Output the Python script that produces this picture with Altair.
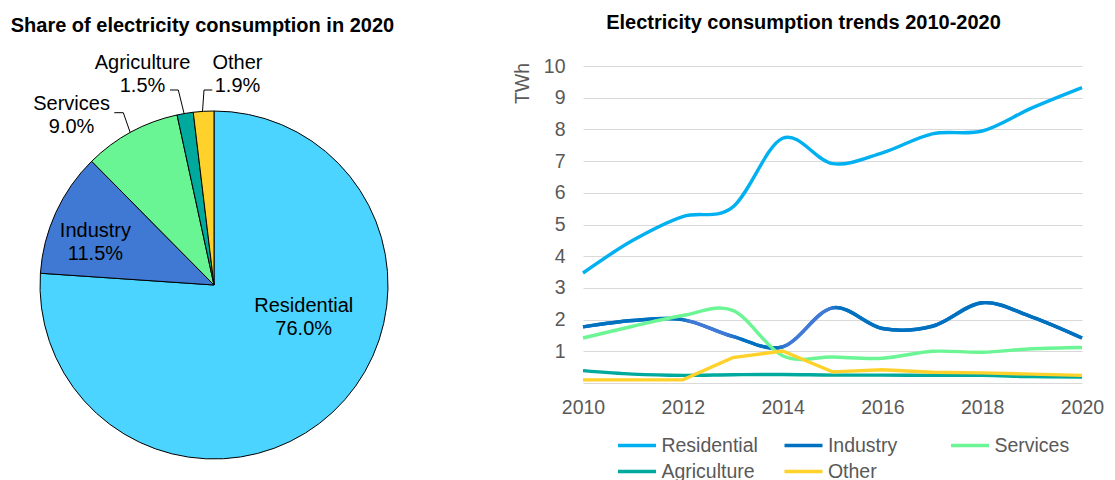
import altair as alt
import pandas as pd

# ---------------- data ----------------
years = list(range(2010, 2021))
residential = [3.47, 4.50, 5.25, 5.55, 7.72, 6.92, 7.26, 7.86, 7.95, 8.68, 9.32]
industry = [1.77, 1.97, 2.00, 1.47, 1.14, 2.37, 1.72, 1.79, 2.53, 2.08, 1.42]
services = [1.42, 1.79, 2.13, 2.29, 0.86, 0.82, 0.78, 1.00, 0.97, 1.08, 1.12]
agriculture = [0.39, 0.28, 0.24, 0.26, 0.27, 0.25, 0.25, 0.24, 0.24, 0.20, 0.19]
other = [0.10, 0.10, 0.10, 0.80, 1.01, 0.35, 0.42, 0.34, 0.32, 0.28, 0.24]

categories = ["Residential", "Industry", "Services", "Agriculture", "Other"]
shares_2020 = [76.0, 11.5, 9.0, 1.5, 1.9]
x_ticks = [2010, 2012, 2014, 2016, 2018, 2020]
y_ticks = [1, 2, 3, 4, 5, 6, 7, 8, 9, 10]

pie_title = "Share of electricity consumption in 2020"
line_title = "Electricity consumption trends 2010-2020"

series_values = [residential, industry, services, agriculture, other]
rows = []
for name, vals in zip(categories, series_values):
    for yr, v in zip(years, vals):
        rows.append({"year": yr, "series": name, "value": v})
df = pd.DataFrame(rows)
pie_df = pd.DataFrame({"category": categories, "share": shares_2020,
                       "idx": list(range(len(categories)))})

# ---------------- styles ----------------
FONT = "Liberation Sans"
GREY = "#595959"
line_range = ["#00B0F0", "#0070C0", "#6CF595", "#00A99D", "#FFD22B"]
pie_range = ["#4AD4FF", "#3F79D4", "#6AF595", "#00A99D", "#FFD22B"]
IND_DARK, IND_LIGHT = "#0070C0", "#4279D6"
SW = 3.4

PL, PT, PW, PH = 583, 66, 499, 317      # plot area in page pixels
CX, CY, R = 214 - PL, 285 - PT, 174       # pie centre (plot coords) and radius

# ---------------- line chart ----------------
x_enc = alt.X("year:Q", scale=alt.Scale(domain=[2010, 2020], nice=False, zero=False),
              axis=alt.Axis(values=x_ticks, format="d", grid=False, ticks=False,
                            domain=True, domainColor="#D9D9D9", domainWidth=1,
                            labelFontSize=19.5, labelColor=GREY, labelFont=FONT,
                            labelPadding=15, labelFlush=False, labelOverlap=False,
                            title=None))
y_enc = alt.Y("value:Q", scale=alt.Scale(domain=[0, 10], nice=False),
              axis=alt.Axis(values=y_ticks, grid=True, gridColor="#D9D9D9", gridWidth=1,
                            domain=False, ticks=False, labelFontSize=19.5,
                            labelColor=GREY, labelFont=FONT, labelPadding=18,
                            labelOverlap=False, labelFlush=False,
                            title="TWh", titleFont=FONT, titleFontSize=19.5,
                            titleFontWeight="normal", titleColor=GREY,
                            titleAngle=270, titleX=-61, titleY=17,
                            titleAlign="center", titleBaseline="middle"))
color_enc = alt.Color("series:N",
                      scale=alt.Scale(domain=categories, range=line_range),
                      sort=categories,
                      legend=alt.Legend(orient="none", legendX=33, legendY=368,
                                        direction="horizontal", columns=3,
                                        gridAlign="all", columnPadding=19.5,
                                        rowPadding=5, symbolType="M-1,0H3",
                                        symbolSize=361, symbolStrokeWidth=SW,
                                        labelFontSize=19.5, labelColor=GREY,
                                        labelFont=FONT, labelOffset=22.4, title=None))

base = alt.Chart(df)
l_res_ind = base.transform_filter(
    alt.FieldOneOfPredicate(field="series", oneOf=["Residential", "Industry"])
).mark_line(interpolate="cardinal", strokeWidth=SW).encode(x=x_enc, y=y_enc, color=color_enc)

grad = alt.LinearGradient(
    gradient="linear", x1=0, x2=1, y1=0, y2=0,
    stops=[alt.GradientStop(color=IND_DARK, offset=0),
           alt.GradientStop(color=IND_DARK, offset=0.195),
           alt.GradientStop(color=IND_LIGHT, offset=0.215),
           alt.GradientStop(color=IND_LIGHT, offset=0.285),
           alt.GradientStop(color=IND_DARK, offset=0.32),
           alt.GradientStop(color=IND_DARK, offset=0.385),
           alt.GradientStop(color=IND_LIGHT, offset=0.41),
           alt.GradientStop(color=IND_LIGHT, offset=0.49),
           alt.GradientStop(color=IND_DARK, offset=0.515),
           alt.GradientStop(color=IND_DARK, offset=1)])
l_ind_overlay = base.transform_filter(alt.datum.series == "Industry").mark_line(
    interpolate="cardinal", strokeWidth=SW, stroke=grad
).encode(x=x_enc, y=y_enc)

l_srv_agr = base.transform_filter(
    alt.FieldOneOfPredicate(field="series", oneOf=["Services", "Agriculture"])
).mark_line(interpolate="cardinal", strokeWidth=SW).encode(x=x_enc, y=y_enc, color=color_enc)

l_other = base.transform_filter(alt.datum.series == "Other").mark_line(
    interpolate="linear", strokeWidth=SW
).encode(x=x_enc, y=y_enc, color=color_enc)

lines = alt.layer(l_res_ind, l_ind_overlay, l_srv_agr, l_other)

# ---------------- pie chart ----------------
arc = alt.Chart(pie_df).mark_arc(radius=R, stroke="black", strokeWidth=1).encode(
    theta=alt.Theta("share:Q", stack=True),
    color=alt.Color("category:N", scale=alt.Scale(domain=categories, range=pie_range),
                    legend=None),
    order=alt.Order("idx:Q"),
    x=alt.value(CX), y=alt.value(CY),
)

LH = 23


def pie_label(cat, r, dx, dy):
    return alt.Chart(pie_df).transform_joinaggregate(
        total="sum(share)"
    ).transform_window(
        cum="sum(share)", sort=[alt.SortField("idx")], frame=[None, 0]
    ).transform_calculate(
        mid="2 * PI * (datum.cum - datum.share / 2) / datum.total",
        label="datum.category + '\\n' + format(datum.share, '.1f') + '%'",
    ).transform_filter(alt.datum.category == cat).mark_text(
        radius=r, dx=dx, dy=dy - LH / 2, lineBreak="\n", lineHeight=LH, fontSize=20,
        font=FONT, color="black", align="center", baseline="middle",
    ).encode(theta=alt.Theta("mid:Q", scale=None), text="label:N",
             x=alt.value(CX), y=alt.value(CY))


labels = [
    pie_label("Residential", 86, 31, -30),
    pie_label("Industry", 126, -4, 10),
    pie_label("Services", 217, -39, 21),
    pie_label("Agriculture", 220, -35, 6),
    pie_label("Other", 209, 36, -2),
]


def rule(x1, y1, x2, y2):
    return alt.Chart(alt.Data(values=[{}])).mark_rule(color="black", strokeWidth=1).encode(
        x=alt.value(x1 - PL), y=alt.value(y1 - PT),
        x2=alt.value(x2 - PL), y2=alt.value(y2 - PT))


leaders = [
    rule(114.3, 112.7, 123.3, 112.7), rule(123.3, 112.7, 130.2, 132.5),
    rule(170.0, 90.0, 178.3, 90.0), rule(178.3, 90.0, 184.1, 113.6),
    rule(212.3, 90.0, 204.0, 90.0), rule(204.0, 90.0, 202.5, 111.4),
]


def title_text(txt, x, y, align):
    return alt.Chart(alt.Data(values=[{}])).mark_text(
        text=txt, fontSize=20, fontWeight="bold", font=FONT, color="black",
        align=align, baseline="alphabetic",
    ).encode(x=alt.value(x - PL), y=alt.value(y - PT))


pie = alt.layer(arc, *labels, *leaders)
titles = alt.layer(title_text(pie_title, 10.7, 31.7, "left"),
                   title_text(line_title, 803.5, 29.3, "center"))

chart = alt.layer(pie, lines, titles).resolve_scale(
    color="independent"
).properties(
    width=PW, height=PH,
    padding={"left": PL, "top": PT, "right": 1115 - PL - PW, "bottom": 480 - PT - PH},
    autosize=alt.AutoSizeParams(type="none"),
).configure(font=FONT, background="white").configure_view(stroke=None)

chart.save("out.html", embed_options={"renderer": "svg", "actions": False})
